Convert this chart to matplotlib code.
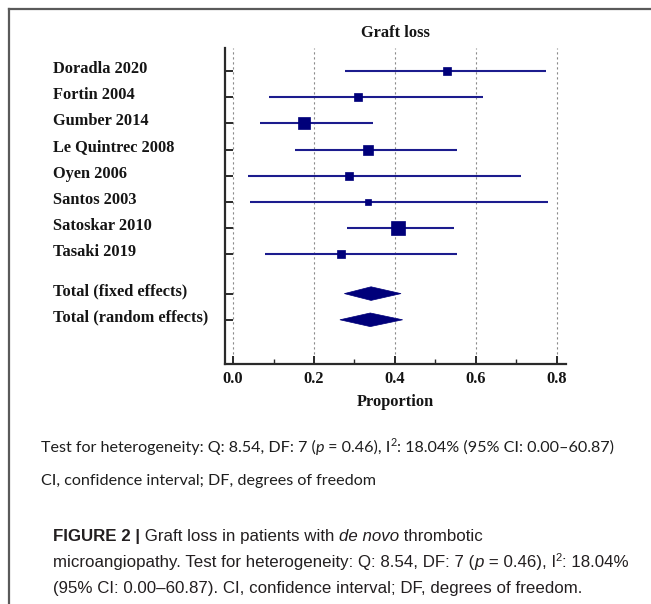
import matplotlib
matplotlib.use("Agg")
import matplotlib.pyplot as plt
import matplotlib.transforms as mtransforms
from matplotlib.patches import Polygon
from matplotlib.lines import Line2D

# study-level proportions with 95% CI
studies = ["Doradla 2020", "Fortin 2004", "Gumber 2014", "Le Quintrec 2008",
           "Oyen 2006", "Santos 2003", "Satoskar 2010", "Tasaki 2019"]
prop = [0.529, 0.308, 0.176, 0.333, 0.286, 0.333, 0.408, 0.266]
ci_low = [0.276, 0.089, 0.067, 0.154, 0.036, 0.042, 0.281, 0.079]
ci_high = [0.773, 0.617, 0.346, 0.553, 0.711, 0.779, 0.546, 0.553]
weight_px = [8.0, 8.0, 11.3, 10.7, 7.3, 6.7, 14.0, 8.7]  # marker side, pixels

pooled = ["Total (fixed effects)", "Total (random effects)"]
pooled_est = [0.341, 0.339]
pooled_low = [0.275, 0.264]
pooled_high = [0.415, 0.419]

xticks = [0.0, 0.2, 0.4, 0.6, 0.8]

W, H, DPI = 651, 604, 100
SERIF = "Liberation Serif"
FS = 11.8
NAVY = "#00007a"
LINE = "#1c1c8e"
INK = "#151515"

fig = plt.figure(figsize=(W / DPI, H / DPI), dpi=DPI)
fig.patch.set_facecolor("white")

# page frame: grey line on top and left only
fig.add_artist(Line2D([9 / W, 9 / W], [0, 1 - 8.5 / H], transform=fig.transFigure, color="#5a5a5a", lw=1.6))
fig.add_artist(Line2D([9 / W, 1], [1 - 8.5 / H, 1 - 8.5 / H], transform=fig.transFigure, color="#5a5a5a", lw=1.6))

# axes in pixel terms
ax_left, ax_right, ax_top, ax_bottom = 225, 565.7, 48, 364.3
ax = fig.add_axes([ax_left / W, 1 - ax_bottom / H, (ax_right - ax_left) / W, (ax_bottom - ax_top) / H])
ax.set_xlim(-0.02, 0.822)

rows = list(range(len(studies)))
pooled_rows = [len(studies) + 0.5, len(studies) + 1.5]
ax.set_ylim(11.2, -0.88)

for x in xticks:
    ax.axvline(x, color="#8a8a8a", lw=0.8, ls=(0, (2.0, 2.5)), zorder=0)

for y, p, lo, hi, s in zip(rows, prop, ci_low, ci_high, weight_px):
    ax.plot([lo, hi], [y, y], color=LINE, lw=1.5, solid_capstyle="butt", zorder=2)
    ax.plot([p], [y], marker="s", ms=s * 72 / DPI, color=NAVY, mec=NAVY, mew=0.5, zorder=3)

half_h = 0.26
for y, p, lo, hi in zip(pooled_rows, pooled_est, pooled_low, pooled_high):
    ax.add_patch(Polygon([[lo, y], [p, y - half_h], [hi, y], [p, y + half_h]],
                         closed=True, facecolor=NAVY, edgecolor=NAVY, lw=0.5, zorder=3))

for side in ["top", "right"]:
    ax.spines[side].set_visible(False)
for side in ["left", "bottom"]:
    ax.spines[side].set_linewidth(1.6)
    ax.spines[side].set_color("#2a2a2a")

ax.set_xticks(xticks)
ax.set_xticks([0.1, 0.3, 0.5, 0.7], minor=True)
ax.set_xticklabels([f"{v:.1f}" for v in xticks], fontfamily=SERIF, fontweight="bold", fontsize=FS, color=INK)
ax.tick_params(axis="x", which="major", direction="in", length=6, width=1.4, color="#2a2a2a", pad=5)
ax.tick_params(axis="x", which="minor", direction="in", length=3.5, width=1.0, color="#2a2a2a")
ax.set_yticks(rows + pooled_rows)
ax.set_yticklabels([])
ax.tick_params(axis="y", direction="in", length=6, width=1.4, color="#2a2a2a")
ax.set_xlabel("Proportion", fontfamily=SERIF, fontweight="bold", fontsize=FS, color=INK, labelpad=5)
ax.set_title("Graft loss", fontfamily=SERIF, fontweight="bold", fontsize=FS, color=INK, pad=8)

lab_tr = mtransforms.blended_transform_factory(fig.transFigure, ax.transData)
for y, name in zip(rows + pooled_rows, studies + pooled):
    ax.text(53 / W, y - 0.08, name, transform=lab_tr, ha="left", va="center",
            fontfamily=SERIF, fontweight="bold", fontsize=FS, color=INK)


def draw_runs(x_px, y_px, runs):
    """Write text pieces one after another on a line; y_px is the baseline from the top."""
    renderer = fig.canvas.get_renderer()
    x = x_px
    for text, kw in runs:
        dy = kw.pop("dy", 0)
        t = fig.text(x / W, 1 - (y_px - dy) / H, text, ha="left", va="baseline", **kw)
        x += t.get_window_extent(renderer).width


note = dict(family="Lato", fontsize=11.6, color="#1e1e1e")
note_it = dict(note, style="italic")
note_sup = dict(note, fontsize=7.8, dy=6)
draw_runs(41, 452, [("Test for heterogeneity: Q: 8.54, DF: 7 (", dict(note)), ("p", dict(note_it)),
                    (" = 0.46), I", dict(note)), ("2", dict(note_sup)),
                    (": 18.04% (95% CI: 0.00\u201360.87)", dict(note))])
draw_runs(41, 485, [("CI, confidence interval; DF, degrees of freedom", dict(note))])

cap = dict(family="Liberation Sans", fontsize=12.2, color="#231f20")
cap_b = dict(cap, weight="bold")
cap_it = dict(cap, style="italic")
cap_sup = dict(cap, fontsize=8, dy=6)
draw_runs(53, 541, [("FIGURE 2 |", dict(cap_b)), (" Graft loss in patients with ", dict(cap)),
                    ("de novo", dict(cap_it)), (" thrombotic", dict(cap))])
draw_runs(53, 567, [("microangiopathy. Test for heterogeneity: Q: 8.54, DF: 7 (", dict(cap)), ("p", dict(cap_it)),
                    (" = 0.46), I", dict(cap)), ("2", dict(cap_sup)), (": 18.04%", dict(cap))])
draw_runs(53, 593, [("(95% CI: 0.00\u201360.87). CI, confidence interval; DF, degrees of freedom.", dict(cap))])

fig.savefig("out.png", dpi=DPI, facecolor="white")
